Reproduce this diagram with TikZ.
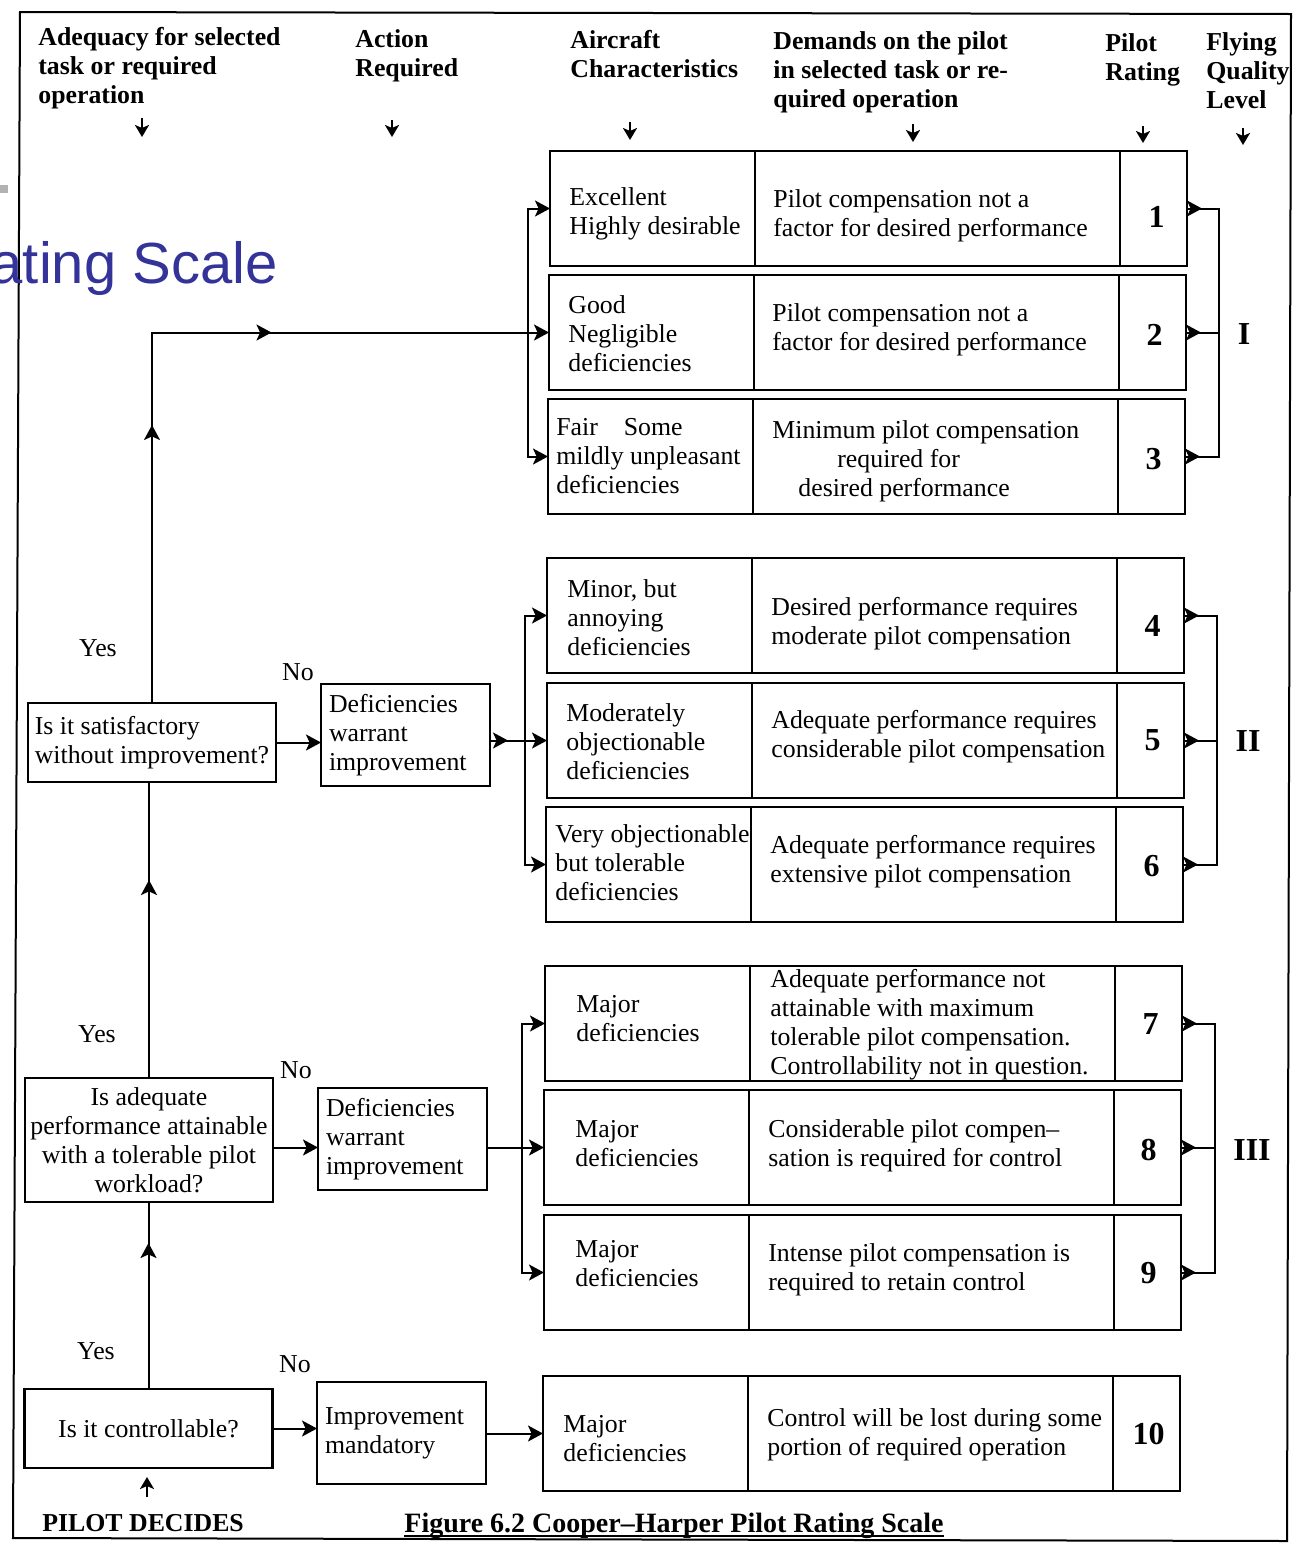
\documentclass[tikz,border=0pt]{standalone}
\usepackage{fontspec}
\setmainfont{Liberation Serif}
\newfontfamily\slidefont{Liberation Sans}
\usetikzlibrary{arrows.meta,decorations.markings,calc}
\definecolor{slideblue}{RGB}{51,51,153}
\tikzset{
  ck/.tip={Stealth[length=7.5pt,width=8pt,inset=1.8pt]},
  hk/.tip={Stealth[length=6pt,width=7pt,inset=1.5pt]},
  bodyfont/.style={font=\fontsize{12.9}{14.5}\selectfont},
  hdr/.style={font=\bfseries\fontsize{12.9}{14.5}\selectfont, align=left, anchor=north west, inner sep=0pt},
  cell/.style={draw, line width=1.3pt, anchor=north west, minimum height=57.5pt, inner sep=0pt, outer sep=0pt},
  chr/.style={cell, minimum width=102.5pt},
  dem/.style={cell, minimum width=182.5pt},
  rat/.style={cell, minimum width=33.5pt},
  num/.style={font=\bfseries\fontsize{16}{16}\selectfont, inner sep=0pt},
  ctxt/.style={bodyfont, align=left, anchor=west, inner sep=0pt},
  qbox/.style={draw, line width=1.3pt, bodyfont, inner sep=0pt, outer sep=0pt, minimum width=124pt},
  dbox/.style={draw, line width=1.3pt, bodyfont, align=left, text width=76.5pt, inner xsep=4pt, inner ysep=0pt, outer sep=0pt, minimum height=51pt, anchor=north west},
  conn/.style={line width=1pt},
  arr/.style={conn, -{ck}},
  harr/.style={line width=1.3pt, -{hk}},
  lbl/.style={bodyfont, inner sep=0pt},
  lvl/.style={font=\bfseries\fontsize{16}{16}\selectfont, inner sep=0pt},
  startmark/.style={decoration={markings, mark=at position #1 with {\arrow{ck}}}, postaction=decorate},
  bothmark/.style={decoration={markings, mark=at position 7.5pt with {\arrow{ck}}, mark=at position -7.5pt with {\arrowreversed{ck}}}, postaction=decorate},
}
\begin{document}
\begin{tikzpicture}[x=0.5pt,y=-0.5pt]
\useasboundingbox (0,0) rectangle (1297,1543);
\fill[white] (0,0) rectangle (1297,1543);

% outer frame
\draw[line width=1pt] (20,12) -- (1291,14) -- (1287,1541) -- (13,1538) -- cycle;

% slide fragment
\fill[gray!60] (0,185) rectangle (8,193);
\node[font=\slidefont\fontsize{29}{29}\selectfont, text=slideblue, anchor=base east, inner sep=0pt] (slide) at (278,283) {ating Scale};

% headers
\node[hdr] (h1) at (38,27) {Adequacy for selected\\task or required\\operation};
\node[hdr] (h2) at (355,29) {Action\\Required};
\node[hdr] (h3) at (570,30) {Aircraft\\Characteristics};
\node[hdr] (h4) at (773,31) {Demands on the pilot\\in selected task or re-\\quired operation};
\node[hdr] (h5) at (1105,33) {Pilot\\Rating};
\node[hdr] (h6) at (1206,32) {Flying\\Quality\\Level};
\coordinate (h1a) at (142,118); \coordinate (h1b) at (142,137);
\coordinate (h2a) at (392,120); \coordinate (h2b) at (392,137);
\coordinate (h3a) at (630,122); \coordinate (h3b) at (630,140);
\coordinate (h4a) at (913,124); \coordinate (h4b) at (913,142);
\coordinate (h5a) at (1143,126); \coordinate (h5b) at (1143,143);
\coordinate (h6a) at (1243,128); \coordinate (h6b) at (1243,145);
\draw[harr] (h1a) -- (h1b);
\draw[harr] (h2a) -- (h2b);
\draw[harr] (h3a) -- (h3b);
\draw[harr] (h4a) -- (h4b);
\draw[harr] (h5a) -- (h5b);
\draw[harr] (h6a) -- (h6b);

% ---------- rows ----------
% row 1
\node[chr] (c1) at (550,151) {};
\node[dem] (d1) at (c1.north east) {};
\node[rat] (r1) at (d1.north east) {};
\node[num] (n1) at ($(r1.center)+(3,8)$) {1};
\node[ctxt] (c1t) at ($(c1.west)+(19,5)$) {Excellent\\Highly desirable};
\node[ctxt] (d1t) at ($(d1.west)+(18,7)$) {Pilot compensation not a\\factor for desired performance};
% row 2
\node[chr] (c2) at (549,275) {};
\node[dem] (d2) at (c2.north east) {};
\node[rat] (r2) at (d2.north east) {};
\node[num] (n2) at ($(r2.center)+(2,2)$) {2};
\node[ctxt] (c2t) at ($(c2.west)+(19,1)$) {Good\\Negligible\\deficiencies};
\node[ctxt] (d2t) at ($(d2.west)+(18,-3)$) {Pilot compensation not a\\factor for desired performance};
% row 3
\node[chr] (c3) at (548,399) {};
\node[dem] (d3) at (c3.north east) {};
\node[rat] (r3) at (d3.north east) {};
\node[num] (n3) at ($(r3.center)+(2,3)$) {3};
\node[ctxt] (c3t) at ($(c3.west)+(8,0)$) {Fair\hspace{1em}Some\\mildly unpleasant\\deficiencies};
\node[ctxt] (d3t) at ($(d3.west)+(19,5)$) {Minimum pilot compensation\\\hspace*{32.5pt}required for\\\hspace*{13pt}desired performance};
% row 4
\node[chr] (c4) at (547,558) {};
\node[dem] (d4) at (c4.north east) {};
\node[rat] (r4) at (d4.north east) {};
\node[num] (n4) at ($(r4.center)+(2,10)$) {4};
\node[ctxt] (c4t) at ($(c4.west)+(20,2)$) {Minor, but\\annoying\\deficiencies};
\node[ctxt] (d4t) at ($(d4.west)+(19,8)$) {Desired performance requires\\moderate pilot compensation};
% row 5
\node[chr] (c5) at (547,683) {};
\node[dem] (d5) at (c5.north east) {};
\node[rat] (r5) at (d5.north east) {};
\node[num] (n5) at ($(r5.center)+(2,0)$) {5};
\node[ctxt] (c5t) at ($(c5.west)+(19,1)$) {Moderately\\objectionable\\deficiencies};
\node[ctxt] (d5t) at ($(d5.west)+(19,-4)$) {Adequate performance requires\\considerable pilot compensation};
% row 6
\node[chr] (c6) at (546,807) {};
\node[dem] (d6) at (c6.north east) {};
\node[rat] (r6) at (d6.north east) {};
\node[num] (n6) at ($(r6.center)+(2,2)$) {6};
\node[ctxt] (c6t) at ($(c6.west)+(9,-2)$) {Very objectionable\\but tolerable\\deficiencies};
\node[ctxt] (d6t) at ($(d6.west)+(19,-3)$) {Adequate performance requires\\extensive pilot compensation};
% row 7
\node[chr] (c7) at (545,966) {};
\node[dem] (d7) at (c7.north east) {};
\node[rat] (r7) at (d7.north east) {};
\node[num] (n7) at ($(r7.center)+(2,1)$) {7};
\node[ctxt] (c7t) at ($(c7.west)+(31,-5)$) {Major\\deficiencies};
\node[ctxt] (d7t) at ($(d7.west)+(20,1)$) {Adequate performance not\\attainable with maximum\\tolerable pilot compensation.\\Controllability not in question.};
% row 8
\node[chr] (c8) at (544,1090) {};
\node[dem] (d8) at (c8.north east) {};
\node[rat] (r8) at (d8.north east) {};
\node[num] (n8) at ($(r8.center)+(1,2)$) {8};
\node[ctxt] (c8t) at ($(c8.west)+(31,-4)$) {Major\\deficiencies};
\node[ctxt] (d8t) at ($(d8.west)+(19,-2)$) {Considerable pilot compen–\\sation is required for control};
% row 9
\node[chr] (c9) at (544,1215) {};
\node[dem] (d9) at (c9.north east) {};
\node[rat] (r9) at (d9.north east) {};
\node[num] (n9) at ($(r9.center)+(1,1)$) {9};
\node[ctxt] (c9t) at ($(c9.west)+(31,-9)$) {Major\\deficiencies};
\node[ctxt] (d9t) at ($(d9.west)+(19,-3)$) {Intense pilot compensation is\\required to retain control};
% row 10
\node[chr] (c10) at (543,1376) {};
\node[dem] (d10) at (c10.north east) {};
\node[rat] (r10) at (d10.north east) {};
\node[num] (n10) at ($(r10.center)+(2,0)$) {10};
\node[ctxt] (c10t) at ($(c10.west)+(20,5)$) {Major\\deficiencies};
\node[ctxt] (d10t) at ($(d10.west)+(19,1)$) {Control will be lost during some\\portion of required operation};

% ---------- decision boxes ----------
\node[qbox, minimum height=39.5pt, align=left] (q1) at (152,742.5) {Is it satisfactory\\without improvement?};
\node[qbox, minimum height=62pt, align=center] (q2) at (149,1140) {Is adequate\\performance attainable\\with a tolerable pilot\\workload?};
\node[qbox, minimum height=39.5pt] (q3) at (148.5,1428.5) {Is it controllable?};

\node[dbox] (def1) at (321,684) {Deficiencies\\warrant\\improvement};
\node[dbox] (def2) at (318,1088) {Deficiencies\\warrant\\improvement};
\node[dbox] (imp) at (317,1382) {Improvement\\mandatory};

% labels
\node[lbl] (yes1) at (98,648) {Yes};
\node[lbl] (no1) at (298,672) {No};
\node[lbl] (yes2) at (97,1034) {Yes};
\node[lbl] (no2) at (296,1070) {No};
\node[lbl] (yes3) at (96,1351) {Yes};
\node[lbl] (no3) at (295,1364) {No};

% bracket coordinates
\coordinate (lb1) at (528,0);
\coordinate (lb2) at (525,0);
\coordinate (lb3) at (522,0);
\coordinate (rb1) at (1219,0);
\coordinate (rb2) at (1217,0);
\coordinate (rb3) at (1215,0);

% yes paths
\draw[conn, -{ck}, decoration={markings, mark=at position 139pt with {\arrow{ck}}, mark=at position 245pt with {\arrow{ck}}}, postaction=decorate] (q1.north) |- (c2.west);
\draw[conn, startmark=99pt] (q2.north) -- (q2.north |- q1.south);
\draw[conn, startmark=73pt] (q3.north) -- (q3.north |- q2.south);

% no paths
\draw[arr] (q1.east) -- (q1.east -| def1.west);
\draw[arr] (q2.east |- c8.west) -- (def2.west |- c8.west);
\draw[arr] (q3.east) -- (q3.east -| imp.west);

% left brackets
\draw[conn, {ck}-{ck}] (c1.west) -| (lb1 |- c2.west) |- (c3.west);
\draw[conn, {ck}-{ck}] (c4.west) -| (lb2 |- c5.west) |- (c6.west);
\draw[conn, -{ck}, startmark=9pt] (def1.east |- c5.west) -- (c5.west);
\draw[conn, {ck}-{ck}] (c7.west) -| (lb3 |- c8.west) |- (c9.west);
\draw[arr] (def2.east |- c8.west) -- (c8.west);
\draw[arr] (imp.east |- c10.west) -- (c10.west);

% right brackets
\draw[conn, bothmark] (r1.east) -| (rb1 |- r2.east) |- (r3.east);
\draw[conn, startmark=7.5pt] (r2.east) -- (rb1 |- r2.east);
\draw[conn, bothmark] (r4.east) -| (rb2 |- r5.east) |- (r6.east);
\draw[conn, startmark=7.5pt] (r5.east) -- (rb2 |- r5.east);
\draw[conn, bothmark] (r7.east) -| (rb3 |- r8.east) |- (r9.east);
\draw[conn, startmark=7.5pt] (r8.east) -- (rb3 |- r8.east);

\node[lvl] (lv1) at (1244,334) {I};
\node[lvl] (lv2) at (1248,741) {II};
\node[lvl] (lv3) at (1252,1150) {III};

% bottom
\node[font=\bfseries\fontsize{12.9}{14.5}\selectfont, anchor=base west, inner sep=0pt] (pd) at (42,1531) {PILOT DECIDES};
\coordinate (pda) at (147,1497);
\coordinate (pdb) at (147,1477);
\draw[harr] (pda) -- (pdb);
\node[font=\bfseries\fontsize{14}{16}\selectfont, anchor=base west, inner sep=0pt] (fig) at (404,1532) {Figure 6.2 Cooper–Harper Pilot Rating Scale};
\draw[line width=1pt] ($(fig.base west)+(0,4)$) -- ($(fig.base east)+(0,4)$);
\end{tikzpicture}
\end{document}
